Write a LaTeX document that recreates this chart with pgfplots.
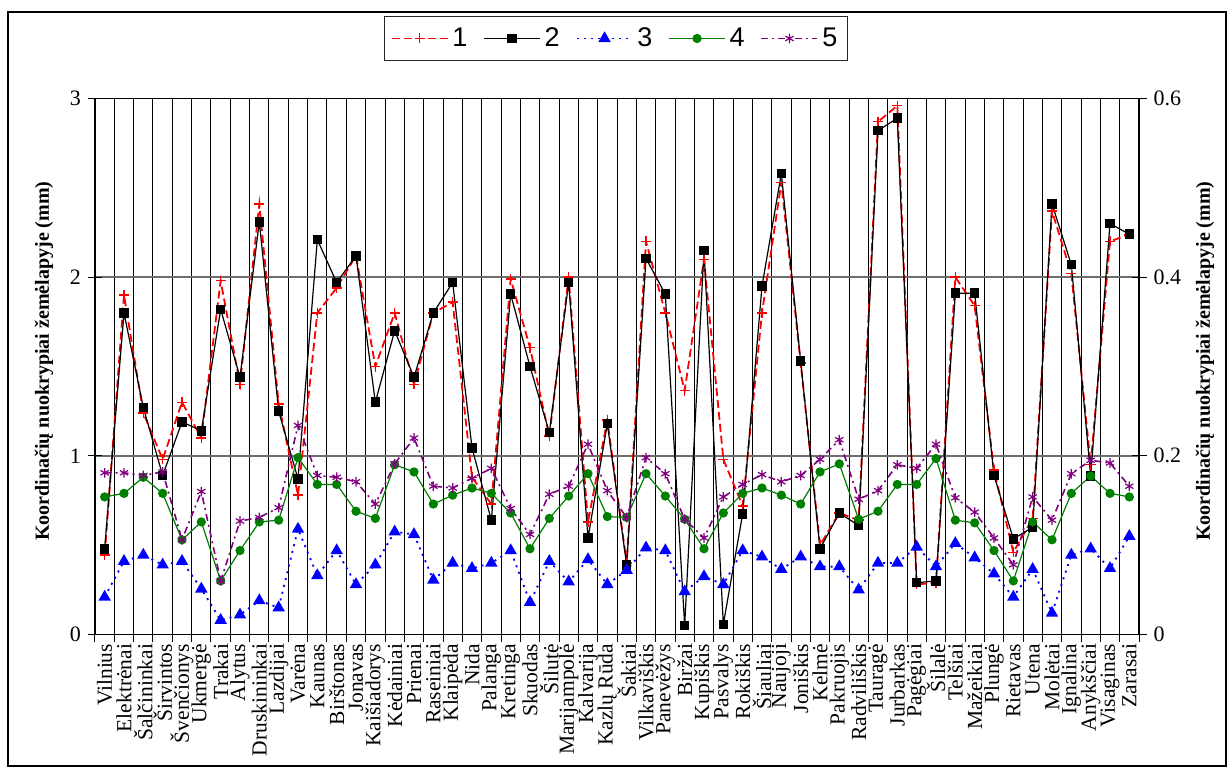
\documentclass[border=0pt]{standalone}
\usepackage{fontspec}
\setmainfont{Liberation Serif}
\newfontfamily\legendfont{Liberation Sans}
\usepackage{pgfplots}
\usepackage{pgfplotstable}
\pgfplotsset{compat=1.18}
\definecolor{mygreen}{RGB}{0,128,0}
\definecolor{mypurple}{RGB}{128,0,128}
\definecolor{gridgray}{RGB}{110,110,110}

\pgfplotstableread{
x a b c d e
0 0.445 0.48 0.21 0.77 0.905
1 1.90 1.80 0.41 0.79 0.905
2 1.24 1.27 0.445 0.88 0.89
3 0.98 0.89 0.39 0.79 0.91
4 1.30 1.19 0.41 0.53 0.53
5 1.10 1.14 0.255 0.63 0.80
6 1.98 1.82 0.08 0.30 0.30
7 1.40 1.44 0.11 0.47 0.635
8 2.41 2.31 0.19 0.63 0.655
9 1.29 1.25 0.15 0.64 0.71
10 0.78 0.87 0.59 0.99 1.17
11 1.80 2.21 0.33 0.84 0.89
12 1.94 1.97 0.47 0.84 0.88
13 2.12 2.12 0.28 0.69 0.855
14 1.50 1.30 0.39 0.65 0.73
15 1.80 1.70 0.575 0.95 0.955
16 1.40 1.44 0.56 0.91 1.10
17 1.80 1.80 0.305 0.73 0.83
18 1.86 1.97 0.40 0.78 0.82
19 0.88 1.045 0.37 0.82 0.875
20 0.73 0.64 0.40 0.79 0.93
21 1.99 1.905 0.47 0.68 0.705
22 1.605 1.50 0.18 0.48 0.56
23 1.11 1.13 0.41 0.65 0.785
24 2.00 1.97 0.295 0.775 0.83
25 0.63 0.54 0.42 0.90 1.065
26 1.20 1.18 0.28 0.66 0.805
27 0.40 0.39 0.36 0.655 0.655
28 2.20 2.105 0.485 0.90 0.99
29 1.80 1.905 0.47 0.775 0.90
30 1.365 0.05 0.24 0.645 0.645
31 2.10 2.15 0.325 0.48 0.54
32 0.98 0.057 0.28 0.68 0.77
33 0.72 0.675 0.47 0.79 0.84
34 1.80 1.95 0.435 0.82 0.895
35 2.53 2.58 0.365 0.78 0.855
36 1.52 1.53 0.435 0.73 0.89
37 0.50 0.48 0.38 0.91 0.98
38 0.68 0.68 0.38 0.955 1.09
39 0.64 0.61 0.25 0.645 0.757
40 2.87 2.82 0.40 0.69 0.805
41 2.96 2.89 0.40 0.84 0.95
42 0.28 0.29 0.49 0.84 0.93
43 0.29 0.30 0.38 0.985 1.065
44 2.00 1.91 0.51 0.64 0.765
45 1.84 1.91 0.43 0.625 0.685
46 0.92 0.89 0.34 0.47 0.54
47 0.46 0.535 0.21 0.30 0.39
48 0.65 0.60 0.365 0.63 0.77
49 2.37 2.41 0.12 0.53 0.64
50 2.02 2.07 0.445 0.79 0.90
51 0.95 0.887 0.48 0.887 0.975
52 2.20 2.30 0.37 0.79 0.96
53 2.24 2.24 0.55 0.77 0.83
}\data

\begin{document}
\begin{tikzpicture}
\path[use as bounding box] (0,0) rectangle (613.5pt,383.5pt);
\draw[line width=0.75pt] (4pt,0.5pt) rectangle (613pt,377.5pt);
\begin{axis}[
  at={(47.5pt,66.25pt)}, anchor=south west,
  scale only axis, width=522pt, height=268pt,
  xmin=0, xmax=108, ymin=0, ymax=3,
  xtick={1,3,...,107},
  xticklabels={Vilnius,Elektrėnai,Šalčininkai,Širvintos,Švenčionys,Ukmergė,Trakai,Alytus,Druskininkai,Lazdijai,Varėna,Kaunas,Birštonas,Jonavas,Kaišiadorys,Kėdainiai,Prienai,Raseiniai,Klaipėda,Nida,Palanga,Kretinga,Skuodas,Šilutė,Marijampolė,Kalvarija,Kazlų Rūda,Šakiai,Vilkaviškis,Panevėžys,Biržai,Kupiškis,Pasvalys,Rokiškis,Šiauliai,Naujoji,Joniškis,Kelmė,Pakruojis,Radviliškis,Tauragė,Jurbarkas,Pagėgiai,Šilalė,Telšiai,Mažeikiai,Plungė,Rietavas,Utena,Molėtai,Ignalina,Anykščiai,Visaginas,Zarasai},
  major x tick style={draw=none},
  minor xtick={0,2,...,108},
  xminorgrids,
  minor grid style={black, line width=0.5pt},
  ytick={0,1,2,3}, yticklabels={0,1,2,3},
  ymajorgrids,
  major grid style={gridgray, line width=0.7pt},
  tick align=center, major tick length=7pt, minor tick length=7pt,
  xtick pos=left, ytick pos=left,
  tick style={black, line width=0.5pt},
  axis line style={line width=0.6pt},
  xticklabel style={rotate=90, anchor=east, inner sep=1pt, font=\fontsize{10.75}{12}\selectfont},
  yticklabel style={font=\fontsize{11}{12}\selectfont},
  ylabel={Koordinačių nuokrypiai žemėlapyje (mm)},
  ylabel style={at={(axis description cs:-0.0489,0.51)}, anchor=center, font=\fontsize{10}{12}\selectfont\bfseries},
  legend columns=5,
  legend style={at={(axis description cs:0.499,1.112)}, anchor=center, draw=black!85, line width=0.7pt,
    font=\legendfont\fontsize{13.5}{15}\selectfont, inner xsep=3pt, inner ysep=3.5pt,
    /tikz/every even column/.append style={column sep=6pt}},
  legend image code/.code={\draw[mark repeat=2,mark phase=2,#1] plot coordinates {(0pt,0pt) (14pt,0pt) (28pt,0pt)};},
]
\addplot[color=red, dash pattern=on 4pt off 2pt, line width=0.9pt, mark=+, mark size=2.5pt, mark options={solid, line width=0.7pt}] table[x expr=2*\thisrow{x}+1,y=a]{\data};
\addlegendentry{1}
\addplot[color=black, line width=0.6pt, mark=square*, mark size=2.1pt, mark options={solid}] table[x expr=2*\thisrow{x}+1,y=b]{\data};
\addlegendentry{2}
\addplot[color=blue, line width=0.9pt, dash pattern=on 1pt off 2.5pt, mark=triangle*, mark size=2.7pt, mark options={solid}] table[x expr=2*\thisrow{x}+1,y=c]{\data};
\addlegendentry{3}
\addplot[color=mygreen, line width=0.6pt, mark=*, mark size=2pt, mark options={solid}] table[x expr=2*\thisrow{x}+1,y=d]{\data};
\addlegendentry{4}
\addplot[color=mypurple, line width=0.8pt, dash pattern=on 3.5pt off 2pt on 1pt off 2pt, mark=asterisk, mark size=2.4pt, mark options={solid, line width=0.6pt}] table[x expr=2*\thisrow{x}+1,y=e]{\data};
\addlegendentry{5}
\end{axis}
\begin{axis}[
  at={(47.5pt,66.25pt)}, anchor=south west,
  scale only axis, width=522pt, height=268pt,
  xmin=0, xmax=108, ymin=0, ymax=0.6,
  axis x line=none, axis y line*=right,
  ytick={0,0.2,0.4,0.6}, yticklabels={0,0.2,0.4,0.6},
  tick align=center, major tick length=7.5pt,
  tick style={black, line width=0.5pt},
  axis line style={line width=0.6pt},
  yticklabel style={font=\fontsize{11}{12}\selectfont},
  ylabel={Koordinačių nuokrypiai žemėlapyje (mm)},
  ylabel style={at={(axis description cs:1.0632,0.51)}, anchor=center, font=\fontsize{10}{12}\selectfont\bfseries},
]
\end{axis}
\end{tikzpicture}
\end{document}
